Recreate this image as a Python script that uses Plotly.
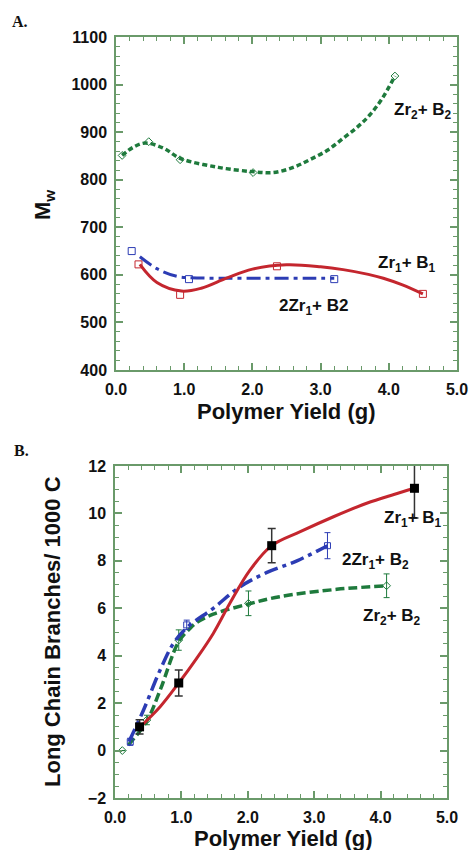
import plotly.graph_objects as go

# ---------------- Panel A data (Mw vs polymer yield) ----------------
a_zr2b2_x = [0.09, 0.48, 0.94, 2.01, 4.09]
a_zr2b2_y = [851, 880, 842, 815, 1018]
a_zr2b2_fit_x = [0.09, 0.25, 0.43, 0.7, 0.94, 1.5, 2.0, 2.31, 2.6, 2.84, 3.1, 3.33, 3.55, 3.72, 3.9, 4.09]
a_zr2b2_fit_y = [851, 868, 877, 866, 845, 826, 817, 815, 826, 842, 862, 887, 912, 936, 970, 1018]

a_2zr1b2_x = [0.23, 1.07, 3.2]
a_2zr1b2_y = [650, 591, 591]
a_2zr1b2_fit_x = [0.35, 0.6, 0.89, 1.1, 1.6, 2.2, 2.8, 3.2]
a_2zr1b2_fit_y = [638, 613, 597, 594, 593, 593, 593, 593]

a_zr1b1_x = [0.33, 0.94, 2.36, 4.5]
a_zr1b1_y = [622, 558, 618, 560]
a_zr1b1_fit_x = [0.35, 0.6, 0.96, 1.25, 1.62, 2.0, 2.5, 3.0, 3.33, 3.7, 3.92, 4.2, 4.5]
a_zr1b1_fit_y = [622, 584, 566, 572, 593, 612, 621, 617, 611, 601, 593, 579, 560]

# ---------------- Panel B data (LCB / 1000 C vs polymer yield) ----------------
b_zr1b1_x = [0.37, 0.96, 2.36, 4.51]
b_zr1b1_y = [1.0, 2.85, 8.64, 11.06]
b_zr1b1_err = [0.3, 0.55, 0.72, 1.25]
b_zr1b1_fit_x = [0.37, 0.68, 0.96, 1.23, 1.48, 1.73, 2.03, 2.36, 2.79, 3.29, 3.79, 4.2, 4.51]
b_zr1b1_fit_y = [0.98, 1.85, 2.85, 3.89, 4.94, 6.21, 7.6, 8.64, 9.23, 9.86, 10.43, 10.8, 11.06]

b_2zr1b2_x = [0.23, 1.08, 3.2]
b_2zr1b2_y = [0.37, 5.3, 8.64]
b_2zr1b2_err = [0.15, 0.2, 0.55]
b_2zr1b2_fit_x = [0.21, 0.43, 0.68, 0.88, 1.08, 1.48, 1.88, 2.28, 2.74, 3.2]
b_2zr1b2_fit_y = [0.37, 1.71, 3.4, 4.52, 5.18, 6.0, 6.9, 7.5, 8.0, 8.64]

b_zr2b2_x = [0.11, 0.48, 0.96, 2.01, 4.09]
b_zr2b2_y = [0.0, 1.29, 4.66, 6.21, 6.95]
b_zr2b2_err = [0.0, 0.2, 0.43, 0.52, 0.5]
b_zr2b2_fit_x = [0.2, 0.48, 0.68, 0.96, 1.13, 1.23, 1.48, 2.01, 2.48, 3.34, 3.7, 4.09]
b_zr2b2_fit_y = [0.23, 1.25, 2.55, 4.6, 5.15, 5.4, 5.75, 6.18, 6.49, 6.8, 6.88, 6.95]

RED = "#c4262e"
BLUE = "#2c3cb4"
GREEN = "#1e7a3c"
FRAME = "#6a9a6a"
SANS = "Liberation Sans, Arial, sans-serif"
TICKFONT = dict(family=SANS, size=16, color="#111111", weight="bold")

fig = go.Figure()

# Panel A traces
fig.add_trace(go.Scatter(x=a_zr2b2_fit_x, y=a_zr2b2_fit_y, mode="lines", line_shape="spline",
                         line=dict(color=GREEN, width=3.5, dash="5px,3px"), xaxis="x", yaxis="y"))
fig.add_trace(go.Scatter(x=a_zr2b2_x, y=a_zr2b2_y, mode="markers",
                         marker=dict(symbol="diamond-open", size=6, color=GREEN, line=dict(width=1)),
                         xaxis="x", yaxis="y"))
fig.add_trace(go.Scatter(x=a_2zr1b2_fit_x, y=a_2zr1b2_fit_y, mode="lines", line_shape="spline",
                         line=dict(color=BLUE, width=3, dash="14px,5px,4px,5px"), xaxis="x", yaxis="y"))
fig.add_trace(go.Scatter(x=a_2zr1b2_x, y=a_2zr1b2_y, mode="markers",
                         marker=dict(symbol="square-open", size=7, color=BLUE, line=dict(width=1)),
                         xaxis="x", yaxis="y"))
fig.add_trace(go.Scatter(x=a_zr1b1_fit_x, y=a_zr1b1_fit_y, mode="lines", line_shape="spline",
                         line=dict(color=RED, width=3), xaxis="x", yaxis="y"))
fig.add_trace(go.Scatter(x=a_zr1b1_x, y=a_zr1b1_y, mode="markers",
                         marker=dict(symbol="square-open", size=7, color=RED, line=dict(width=1)),
                         xaxis="x", yaxis="y"))

# Panel B traces
fig.add_trace(go.Scatter(x=b_zr2b2_fit_x, y=b_zr2b2_fit_y, mode="lines", line_shape="spline",
                         line=dict(color=GREEN, width=3.5, dash="9px,4px"), xaxis="x2", yaxis="y2"))
fig.add_trace(go.Scatter(x=b_zr2b2_x, y=b_zr2b2_y, mode="markers",
                         error_y=dict(type="data", array=b_zr2b2_err, color=GREEN, thickness=1, width=3),
                         marker=dict(symbol="diamond-open", size=6, color=GREEN, line=dict(width=1)),
                         xaxis="x2", yaxis="y2"))
fig.add_trace(go.Scatter(x=b_2zr1b2_fit_x, y=b_2zr1b2_fit_y, mode="lines", line_shape="spline",
                         line=dict(color=BLUE, width=3.5, dash="14px,5px,4px,5px"), xaxis="x2", yaxis="y2"))
fig.add_trace(go.Scatter(x=b_2zr1b2_x, y=b_2zr1b2_y, mode="markers",
                         error_y=dict(type="data", array=b_2zr1b2_err, color=BLUE, thickness=1, width=3),
                         marker=dict(symbol="square-open", size=6, color=BLUE, line=dict(width=1)),
                         xaxis="x2", yaxis="y2"))
fig.add_trace(go.Scatter(x=b_zr1b1_fit_x, y=b_zr1b1_fit_y, mode="lines", line_shape="spline",
                         line=dict(color=RED, width=3), xaxis="x2", yaxis="y2"))
fig.add_trace(go.Scatter(x=b_zr1b1_x, y=b_zr1b1_y, mode="markers",
                         error_y=dict(type="data", array=b_zr1b1_err, color="#333333", thickness=1.5, width=4),
                         marker=dict(symbol="square", size=9, color="#000000"),
                         xaxis="x2", yaxis="y2", cliponaxis=True))

def axis(domain, anchor, rng, dtick, minor_dtick, fmt):
    return dict(domain=domain, anchor=anchor, range=rng, dtick=dtick, tick0=0,
                tickformat=fmt, ticks="inside", ticklen=7, tickwidth=1.5, tickcolor=FRAME,
                minor=dict(dtick=minor_dtick, tick0=0, ticks="inside", ticklen=4, tickwidth=1, tickcolor=FRAME),
                showline=True, linecolor=FRAME, linewidth=1.5, mirror="allticks",
                showgrid=False, zeroline=False, tickfont=TICKFONT, ticklabelstandoff=4)

W, H = 471, 850
xa = axis([116 / W, 457 / W], "y", [0, 5], 1, 0.2, ".1f")
ya = axis([1 - 370 / H, 1 - 37 / H], "x", [400, 1100], 100, 20, "d")
xb = axis([115 / W, 447 / W], "y2", [0, 5], 1, 0.2, ".1f")
yb = axis([1 - 798 / H, 1 - 466 / H], "x2", [-2, 12], 2, 0.5, "d")

TITLEFONT = dict(family=SANS, size=22, color="#111111", weight="bold")
LABELFONT = dict(family=SANS, size=17, color="#111111", weight="bold")
PANELFONT = dict(family="Liberation Serif, Times New Roman, serif", size=16, color="#111111", weight="bold")

annotations = [
    dict(text="A.", x=10 / W, y=1 - 22 / H, xref="paper", yref="paper", xanchor="left", yanchor="middle",
         showarrow=False, font=PANELFONT),
    dict(text="B.", x=12 / W, y=1 - 450 / H, xref="paper", yref="paper", xanchor="left", yanchor="middle",
         showarrow=False, font=PANELFONT),
    dict(text="Polymer Yield (g)", x=286 / W, y=1 - 412 / H, xref="paper", yref="paper",
         xanchor="center", yanchor="middle", showarrow=False, font=TITLEFONT),
    dict(text="Polymer Yield (g)", x=283 / W, y=1 - 838 / H, xref="paper", yref="paper",
         xanchor="center", yanchor="middle", showarrow=False, font=TITLEFONT),
    dict(text="M<sub>w</sub>", x=44 / W, y=1 - 205 / H, xref="paper", yref="paper", textangle=-90,
         xanchor="center", yanchor="middle", showarrow=False, font=TITLEFONT),
    dict(text="Long Chain Branches/ 1000 C", x=52 / W, y=1 - 632 / H, xref="paper", yref="paper",
         textangle=-90, xanchor="center", yanchor="middle", showarrow=False, font=TITLEFONT),
    # in-plot labels, panel A
    dict(text="Zr<sub>2</sub>+ B<sub>2</sub>", x=4.5, y=945, xref="x", yref="y",
         showarrow=False, font=LABELFONT),
    dict(text="Zr<sub>1</sub>+ B<sub>1</sub>", x=4.27, y=622, xref="x", yref="y",
         showarrow=False, font=LABELFONT),
    dict(text="2Zr<sub>1</sub>+ B2", x=2.9, y=533, xref="x", yref="y",
         showarrow=False, font=LABELFONT),
    # in-plot labels, panel B
    dict(text="Zr<sub>1</sub>+ B<sub>1</sub>", x=4.49, y=9.75, xref="x2", yref="y2",
         showarrow=False, font=LABELFONT),
    dict(text="2Zr<sub>1</sub>+ B<sub>2</sub>", x=3.92, y=8.0, xref="x2", yref="y2",
         showarrow=False, font=LABELFONT),
    dict(text="Zr<sub>2</sub>+ B<sub>2</sub>", x=4.17, y=5.65, xref="x2", yref="y2",
         showarrow=False, font=LABELFONT),
]

fig.update_layout(
    width=W, height=H, margin=dict(l=0, r=0, t=0, b=0, autoexpand=False),
    paper_bgcolor="white", plot_bgcolor="white", showlegend=False,
    xaxis=xa, yaxis=ya, xaxis2=xb, yaxis2=yb,
    annotations=annotations,
    font=dict(family=SANS, size=16, color="#111111"),
)

fig.write_html("out.html")
